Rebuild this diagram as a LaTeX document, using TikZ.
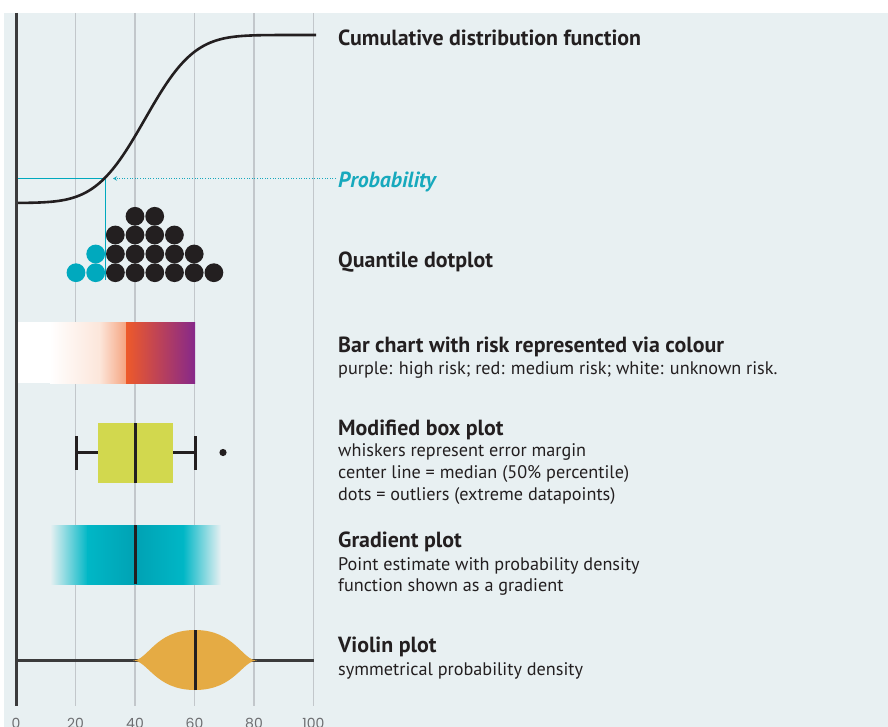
\documentclass[tikz,border=0pt]{standalone}
\usepackage{fontspec}
\setmainfont{PT Sans}
\newfontfamily\tickfont{Poppins}
\usetikzlibrary{arrows.meta}

\definecolor{panel}{HTML}{E8F0F2}
\definecolor{gridgray}{HTML}{C2C7CB}
\definecolor{axisgray}{HTML}{3B3B3C}
\definecolor{ink}{HTML}{231F20}
\definecolor{tickgray}{HTML}{6D6E71}
\definecolor{dotcyan}{HTML}{00A9BE}
\definecolor{probcyan}{HTML}{17A9BD}
\definecolor{boxgreen}{HTML}{D2D84E}
\definecolor{tealL}{HTML}{00B7C6}
\definecolor{tealD}{HTML}{00A2B4}
\definecolor{violingold}{HTML}{E5AB44}
\definecolor{peachA}{HTML}{FCE6DA}
\definecolor{peachB}{HTML}{F5A37F}
\definecolor{riskred}{HTML}{EE5A2A}
\definecolor{riskpurple}{HTML}{86288A}

\begin{document}
\begin{tikzpicture}
[x=1pt,y=-1pt,
title/.style ={anchor=base west, inner sep=0pt, text=ink,
font=\bfseries\fontsize{21.9}{24}\selectfont},
desc/.style ={anchor=base west, inner sep=0pt, text=ink,
font=\fontsize{18.2}{21}\selectfont},
tick/.style ={anchor=base, inner sep=0pt, text=tickgray,
font=\tickfont\fontsize{14}{16}\selectfont},
gridline/.style ={draw=gridgray, line width=1.5pt},
thickline/.style ={draw=ink, line width=3pt},
probline/.style ={draw=dotcyan, line width=0.9pt},
probarrow/.style ={draw=probcyan, line width=1pt, dash pattern=on 1pt off 1.6pt,
-{Stealth[length=4pt,width=4.5pt,open]}, shorten <=2pt}]

% panel
\useasboundingbox (0,0) rectangle (888,727);
\fill[white] (0,0) rectangle (888,727);
\fill[panel] (4,13) rectangle (888,727);

% grid and ticks
\foreach \i in {1,...,5}
  \draw[gridline] (16+59.5*\i,13) -- (16+59.5*\i,706);
\foreach \i/\lab in {0/0,1/20,2/40,3/60,4/80,5/100}
  \node[tick] (tick\i) at (16+59.5*\i,728) {\lab};

% cumulative distribution
\coordinate (probpt) at (105,178.5);
\coordinate (probaxis) at (16,178.5);
\coordinate (probfoot) at (105,280);
\draw[probline] (probaxis) -- (probpt) -- (probfoot);
\draw[ink, line width=2.6pt] plot[domain=16:316, samples=150, smooth]
  (\x, {203-168/(1+exp(-0.07056*((\x-145)/38.6)^3-1.5976*(\x-145)/38.6))});

% quantile dots
\foreach \yy/\xa/\nn/\nc in {272.7/76/7/1, 254/95.7/5/0, 235/115.3/3/-1, 216.3/135/1/-1}
  \foreach \n in {0,...,\nn}{
    \ifnum\n>\nc \def\dc{ink}\else\def\dc{dotcyan}\fi
    \fill[\dc] (\xa+19.7*\n,\yy) circle[radius=9.4pt];
  }

% bar with risk colour
\fill[white] (16,322) rectangle (50,383);
\shade[left color=white, right color=peachA] (50,322) rectangle (100,383);
\shade[left color=peachA, right color=peachB] (99.5,322) rectangle (126.5,383);
\shade[left color=riskred, right color=riskpurple] (126,322) rectangle (195,383);

% box plot
\draw[thickline] (76,452.5) -- (195,452.5);
\draw[thickline] (76,436) -- (76,470);
\draw[thickline] (195,436) -- (195,470);
\fill[boxgreen] (98,423) rectangle (173,483);
\draw[thickline] (135.5,423) -- (135.5,483);
\fill[ink] (223,452.5) circle[radius=3.6pt];

% gradient plot
\shade[left color=panel, right color=tealL] (50,525) rectangle (88,584);
\shade[left color=tealL, right color=tealD] (87.5,525) rectangle (135.5,584);
\shade[left color=tealD, right color=tealL] (135.5,525) rectangle (183.5,584);
\shade[left color=tealL, right color=panel] (183,525) rectangle (221,584);
\draw[thickline] (135.5,525) -- (135.5,584);

% violin plot
\draw[axisgray, line width=3pt] (16,660.5) -- (314,660.5);
\fill[violingold] (133,660.5) .. controls (148,660.5) and (155,630) .. (195,630)
  .. controls (235,630) and (242,660.5) .. (257,660.5)
  .. controls (242,660.5) and (235,690) .. (195,690)
  .. controls (155,690) and (148,660.5) .. (133,660.5) -- cycle;
\draw[thickline] (195,630) -- (195,690);

% axis
\draw[axisgray, line width=3pt] (16,13) -- (16,706);

% labels
\node[title] (cdf) at (338,45.5) {Cumulative distribution function};
\node[title, text=probcyan, font=\bfseries\itshape\fontsize{21.9}{24}\selectfont]
  (probtxt) at (338,188) {Probability};
\draw[probarrow] (probtxt.west |- probpt) -- ([xshift=8pt]probpt);
\node[title] (quant) at (338,267) {Quantile dotplot};
\node[title] (bar) at (338,352) {Bar chart with risk represented via colour};
\node[desc] (bar1) at (338,374) {purple: high risk; red: medium risk; white: unknown risk.};
\node[title] (box) at (338,435) {Modified box plot};
\node[desc] (box1) at (338,456.7) {whiskers represent error margin};
\node[desc] (box2) at (338,478.3) {center line = median (50\% percentile)};
\node[desc] (box3) at (338,500) {dots = outliers (extreme datapoints)};
\node[title] (grad) at (338,547) {Gradient plot};
\node[desc] (grad1) at (338,570) {Point estimate with probability density};
\node[desc] (grad2) at (338,591.7) {function shown as a gradient};
\node[title] (violin) at (338,652) {Violin plot};
\node[desc] (violin1) at (338,675.7) {symmetrical probability density};
\end{tikzpicture}
\end{document}
